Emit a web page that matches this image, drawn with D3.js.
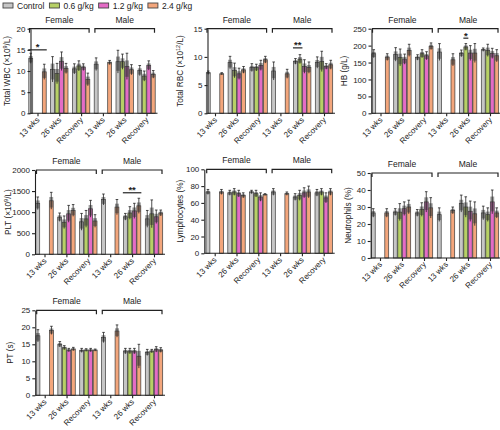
<!DOCTYPE html>
<html><head><meta charset="utf-8">
<script src="https://cdn.jsdelivr.net/npm/d3@7"></script>
<style>body{margin:0;background:#fff}svg{display:block;font-family:"Liberation Sans",Arial,sans-serif}</style>
</head><body><svg id="c" width="500" height="430"></svg>
<script>
const groupLabels = ["13 wks","26 wks","Recovery","13 wks","26 wks","Recovery"];
const sexLabels = ["Female","Male"];
const seriesNames = ["Control","0.6 g/kg","1.2 g/kg","2.4 g/kg"];
const seriesColors = ["#c6c6c6","#b7d066","#e46cc6","#f3a67c"];

const wbcMean = [[13.0,null,null,9.8],[10.4,9.4,12.3,10.6],[10.5,11.2,10.9,8.0],[11.6,null,null,12.0],[12.2,12.2,11.1,10.3],[10.1,8.8,11.3,9.2]];
const wbcErr  = [[1.2,null,null,1.8],[3.0,2.4,2.2,1.2],[1.2,1.2,0.8,1.5],[1.5,null,null,0.5],[2.7,1.8,3.1,1.2],[1.2,1.2,1.1,0.9]];
const rbcMean = [[7.2,null,null,7.0],[9.0,7.6,7.0,7.7],[8.1,8.1,8.5,9.5],[7.5,null,null,7.0],[9.2,9.6,8.3,8.1],[9.0,9.2,8.3,8.6]];
const rbcErr  = [[0.3,null,null,0.2],[1.1,1.3,1.0,0.6],[0.7,0.6,0.9,0.6],[1.6,null,null,0.8],[0.5,0.8,1.2,1.0],[1.0,1.8,0.5,0.8]];
const hbMean  = [[176,null,null,166],[174,165,160,186],[165,176,170,198],[181,null,null,158],[177,196,178,178],[188,186,177,170]];
const hbErr   = [[12,null,null,10],[20,25,15,18],[8,12,12,10],[25,null,null,18],[10,10,22,28],[5,18,15,18]];
const pltMean = [[1210,null,null,1270],[880,760,960,1040],[770,840,1080,790],[1300,null,null,1120],[890,980,1030,1150],[840,960,890,980]];
const pltErr  = [[150,null,null,200],[100,150,200,140],[200,200,200,150],[130,null,null,180],[80,150,180,180],[200,330,160,70]];
const lymMean = [[73,null,null,73],[72,73,71,69],[73,71,67,70],[73,null,null,71],[67,69,72,73],[72,73,66,73]];
const lymErr  = [[3,null,null,3],[3,4,4,3],[2,4,5,1],[4,null,null,2],[4,6,6,7],[4,4,6,4]];
const neuMean = [[26.5,null,null,26.5],[27,27,29,30],[26.5,28.5,33,29.5],[25.5,null,null,28],[32,30,27.5,26],[26.5,25.5,33,26.5]];
const neuErr  = [[2.5,null,null,2.5],[2,5,4,4],[2,4,6,6],[4,null,null,2],[5,6,6,7],[4,4,7,3]];
const ptMean  = [[17.5,null,null,19.1],[15.0,14.0,13.3,13.6],[13.2,13.3,13.3,13.3],[17.0,null,null,18.9],[13.0,13.0,13.0,11.5],[12.6,13.0,13.5,13.3]];
const ptErr   = [[1.8,null,null,1.2],[0.8,0.6,0.5,0.5],[0.6,0.4,0.5,0.3],[1.5,null,null,1.8],[0.8,0.8,0.8,3.5],[0.9,0.5,0.8,0.7]];

const wbcTicks = [0,5,10,15,20];
const rbcTicks = [0,5,10,15];
const hbTicks  = [0,50,100,150,200,250];
const pltTicks = [0,500,1000,1500,2000];
const lymTicks = [0,20,40,60,80,100];
const neuTicks = [0,10,20,30,40,50];
const ptTicks  = [0,5,10,15,20,25];

// significance marks: panel index, group, from series, to series, value, label
const sigPanel = [0,1,2,3];
const sigGroup = [0,4,4,4];
const sigFrom  = [0,0,1,0];
const sigTo    = [3,1,1,3];
const sigValue = [15,11.6,222,1460];
const sigLabel = ["*","**","*","**"];

const panels = [
  {mean:wbcMean, err:wbcErr, ticks:wbcTicks, title:["Total WBC (×10","9","/L)"]},
  {mean:rbcMean, err:rbcErr, ticks:rbcTicks, title:["Total RBC (×10","12","/L)"]},
  {mean:hbMean, err:hbErr, ticks:hbTicks, title:["HB (g/L)"]},
  {mean:pltMean, err:pltErr, ticks:pltTicks, title:["PLT (×10","9","/L)"]},
  {mean:lymMean, err:lymErr, ticks:lymTicks, title:["Lymphocytes (%)"]},
  {mean:neuMean, err:neuErr, ticks:neuTicks, title:["Neutrophils (%)"]},
  {mean:ptMean, err:ptErr, ticks:ptTicks, title:["PT (s)"]}
];
// layout: y-axis x, first/last group centre, top, bottom, title x
const layout = [
  {ax:30.5, c0:37.5, c5:146.5, top:28.7, bottom:113.3, tx:10},
  {ax:207.5, c0:215, c5:324, top:28.7, bottom:113.3, tx:183},
  {ax:371.5, c0:380.5, c5:490, top:28.7, bottom:113.3, tx:347},
  {ax:35, c0:44.5, c5:154, top:170, bottom:254.3, tx:10.5},
  {ax:204.3, c0:214.7, c5:323.7, top:169.3, bottom:253.3, tx:183},
  {ax:370.7, c0:380, c5:490, top:173, bottom:258, tx:351},
  {ax:35.3, c0:44.7, c5:154, top:310.3, bottom:395.3, tx:13}
];

const svg = d3.select("#c");
const ink = "#222";
const slot = 4.5, bw = 3.9;

panels.forEach((p, pi) => {
  const L = layout[pi];
  const g = svg.append("g");
  const y = d3.scaleLinear().domain([0, d3.max(p.ticks)]).range([L.bottom, L.top]);
  const x = d3.scalePoint().domain(d3.range(6)).range([L.c0, L.c5]);
  const off = s => (s - 1.5) * slot;

  // bars
  p.mean.forEach((row, gi) => row.forEach((v, si) => {
    if (v == null) return;
    const e = p.err[gi][si];
    const cx = x(gi) + off(si);
    g.append("rect").attr("x", cx - bw/2).attr("y", y(v)).attr("width", bw).attr("height", y(0) - y(v))
      .attr("fill", seriesColors[si]).attr("stroke", "#3a3a3a").attr("stroke-width", 0.7);
    // data-point cloud
    g.append("rect").attr("x", cx - bw/2).attr("y", y(Math.min(v + e*0.45, d3.max(p.ticks))))
      .attr("width", bw).attr("height", Math.max(1.5, y(v - e*0.8) - y(v + e*0.45)))
      .attr("fill", "#4a4a4a").attr("opacity", 0.55);
    // error bar
    g.append("line").attr("x1", cx).attr("x2", cx).attr("y1", y(v + e)).attr("y2", y(Math.max(0, v - e)))
      .attr("stroke", ink).attr("stroke-width", 0.8);
    g.append("line").attr("x1", cx - 1.3).attr("x2", cx + 1.3).attr("y1", y(v + e)).attr("y2", y(v + e))
      .attr("stroke", ink).attr("stroke-width", 0.8);
  }));

  // y axis
  const ya = g.append("g").attr("transform", `translate(${L.ax},0)`)
    .call(d3.axisLeft(y).tickValues(p.ticks).tickFormat(d3.format("d")).tickSize(3).tickSizeOuter(0).tickPadding(2));
  ya.select(".domain").attr("stroke", ink).attr("stroke-width", 1.1);
  ya.selectAll(".tick line").attr("stroke", ink).attr("stroke-width", 1.1);
  ya.selectAll("text").attr("font-size", 8).attr("fill", ink).attr("font-family", "Liberation Sans, Arial, sans-serif");

  // x axis
  const xa = g.append("g").attr("transform", `translate(0,${L.bottom})`)
    .call(d3.axisBottom(x).tickSize(3).tickSizeOuter(0).tickFormat(i => groupLabels[i]));
  xa.select(".domain").attr("d", `M${L.ax},0H${L.c5 + 11}`).attr("stroke", ink).attr("stroke-width", 1.1);
  xa.selectAll(".tick line").attr("stroke", ink).attr("stroke-width", 1.1);
  xa.selectAll("text").attr("font-size", 8).attr("fill", ink).attr("text-anchor", "end")
    .attr("font-family", "Liberation Sans, Arial, sans-serif")
    .attr("dy", 0).attr("y", 0)
    .attr("transform", "translate(2,7) rotate(-45)");

  // y title
  const t = g.append("text").attr("transform", `translate(${L.tx},${(L.top + L.bottom)/2}) rotate(-90)`)
    .attr("text-anchor", "middle").attr("font-size", 8.2).attr("fill", ink);
  t.append("tspan").text(p.title[0]);
  if (p.title.length > 1) {
    t.append("tspan").text(p.title[1]).attr("font-size", 5.5).attr("dy", -3);
    t.append("tspan").text(p.title[2]).attr("dy", 3);
  }

  // sex brackets
  sexLabels.forEach((s, k) => {
    const x1 = x(3*k) - 8, x2 = x(3*k + 2) + 8, yy = L.top;
    g.append("path").attr("d", `M${x1},${yy + 4}V${yy}H${x2}V${yy + 4}`)
      .attr("fill", "none").attr("stroke", ink).attr("stroke-width", 1.2);
    g.append("text").attr("x", (x1 + x2)/2).attr("y", yy - 6).attr("text-anchor", "middle")
      .attr("font-size", 8.5).attr("fill", ink).text(s);
  });

  // significance
  sigPanel.forEach((sp, k) => {
    if (sp !== pi) return;
    const xa1 = x(sigGroup[k]) + off(sigFrom[k]) - 2.5, xa2 = x(sigGroup[k]) + off(sigTo[k]) + 2.5;
    const yy = y(sigValue[k]);
    g.append("line").attr("x1", xa1).attr("x2", xa2).attr("y1", yy).attr("y2", yy)
      .attr("stroke", ink).attr("stroke-width", 1.2);
    g.append("text").attr("x", (xa1 + xa2)/2).attr("y", yy + 0.5).attr("text-anchor", "middle")
      .attr("font-size", 9.5).attr("font-weight", "bold").attr("fill", ink).text(sigLabel[k]);
  });
});

// legend
let lx = 3;
seriesNames.forEach((n, i) => {
  const lg = svg.append("g");
  lg.append("rect").attr("x", lx).attr("y", 3).attr("width", 10).attr("height", 5)
    .attr("fill", seriesColors[i]).attr("stroke", "#444").attr("stroke-width", 0.9);
  const tx = lg.append("text").attr("x", lx + 14).attr("y", 8.6).attr("font-size", 8.5).attr("fill", ink).text(n);
  lx += 14 + tx.node().getComputedTextLength() + 5;
});
</script></body></html>
